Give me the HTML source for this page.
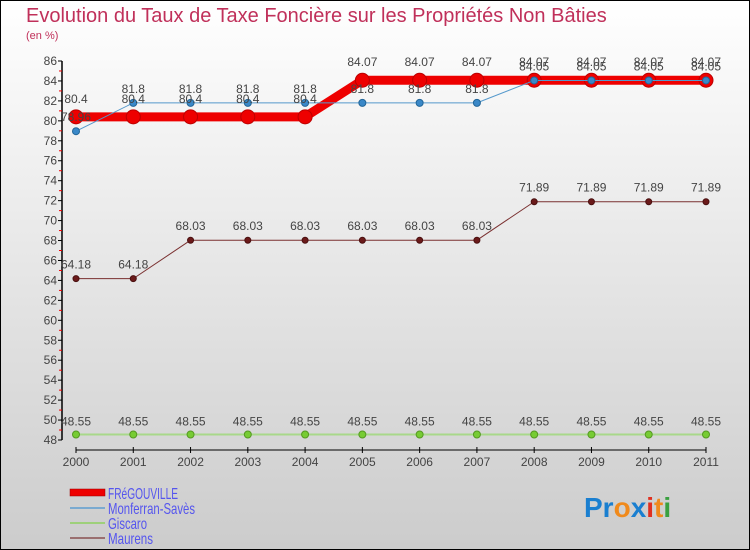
<!DOCTYPE html>
<html><head><meta charset="utf-8"><style>
body{margin:0}
svg{display:block;font-family:"Liberation Sans",sans-serif}
</style></head><body>
<svg id="c" width="750" height="550">
<defs><linearGradient id="bg" x1="0" y1="0" x2="0" y2="1"><stop offset="0" stop-color="#ffffff"/><stop offset="1" stop-color="#cccccc"/></linearGradient></defs>
<rect x="0.5" y="0.5" width="749" height="549" fill="url(#bg)" stroke="#000"/>
<text x="26" y="22" font-size="20" fill="#c0305a">Evolution du Taux de Taxe Foncière sur les Propriétés Non Bâties</text>
<text x="26" y="39" font-size="11" fill="#c0305a">(en %)</text>
<g id="axes"></g><g id="series"></g><g id="labels"></g>
<g>
<rect x="70" y="489" width="35" height="7" fill="#e00" stroke="#900" stroke-width="0.5"/>
<text x="108" y="499" font-size="16" fill="#5555ee" textLength="70" lengthAdjust="spacingAndGlyphs">FRéGOUVILLE</text>
<line x1="70" y1="508" x2="105" y2="508" stroke="#7aaad0" stroke-width="2"/>
<text x="108" y="514" font-size="16" fill="#5555ee" textLength="87" lengthAdjust="spacingAndGlyphs">Monferran-Savès</text>
<line x1="70" y1="523" x2="105" y2="523" stroke="#9ed07a" stroke-width="2"/>
<text x="108" y="529" font-size="16" fill="#5555ee" textLength="39" lengthAdjust="spacingAndGlyphs">Giscaro</text>
<line x1="70" y1="538" x2="105" y2="538" stroke="#9a6f6f" stroke-width="2"/>
<text x="108" y="544" font-size="16" fill="#5555ee" textLength="45" lengthAdjust="spacingAndGlyphs">Maurens</text>
</g>
<text x="584" y="517" font-size="28" font-weight="bold"><tspan fill="#1a7fd0">Pr</tspan><tspan fill="#f08a1c">o</tspan><tspan fill="#1a7fd0">x</tspan><tspan fill="#e03020">i</tspan><tspan fill="#f08a1c">t</tspan><tspan fill="#3aa040">i</tspan></text>
</svg>
<script>
const years=[2000,2001,2002,2003,2004,2005,2006,2007,2008,2009,2010,2011];
const fregouville=[80.4,80.4,80.4,80.4,80.4,84.07,84.07,84.07,84.07,84.07,84.07,84.07];
const monferran=[78.96,81.8,81.8,81.8,81.8,81.8,81.8,81.8,84.05,84.05,84.05,84.05];
const giscaro=[48.55,48.55,48.55,48.55,48.55,48.55,48.55,48.55,48.55,48.55,48.55,48.55];
const maurens=[64.18,64.18,68.03,68.03,68.03,68.03,68.03,68.03,71.89,71.89,71.89,71.89];
const yTicks=[48,50,52,54,56,58,60,62,64,66,68,70,72,74,76,78,80,82,84,86];
const NS="http://www.w3.org/2000/svg";
const X=i=>76+i*(706-76)/(years.length-1);
const Y=v=>440-(v-48)*(440-61)/(86-48);
function mk(p,t,a){const e=document.createElementNS(NS,t);for(const k in a)e.setAttribute(k,a[k]);p.appendChild(e);return e;}
const ax=document.getElementById('axes'),se=document.getElementById('series'),lb=document.getElementById('labels');
let l=mk(ax,'line',{x1:62,y1:61,x2:62,y2:440,stroke:'#000','stroke-width':1.5});


yTicks.forEach((t,i)=>{
 mk(ax,'line',{x1:58,x2:62,y1:Y(t),y2:Y(t),stroke:'#000'});
 if(i<yTicks.length-1) mk(ax,'line',{x1:59,x2:62,y1:Y(t+1),y2:Y(t+1),stroke:'#e00'});
 const tx=mk(ax,'text',{x:57,y:Y(t)+4,'text-anchor':'end','font-size':12,fill:'#444'});
 tx.textContent=t;
 
 
});
l=mk(ax,'line',{x1:X(0),y1:450,x2:X(11),y2:450,stroke:'#000','stroke-width':1});


years.forEach((y,i)=>{
 mk(ax,'line',{x1:X(i),x2:X(i),y1:447,y2:453,stroke:'#000'});
 const tx=mk(ax,'text',{x:X(i),y:466,'text-anchor':'middle','font-size':12,fill:'#444'});
 tx.textContent=y;
 
 
});
function series(name,vals,color,w,r,dot,dotStroke,lblDy){
 const pts=vals.map((v,i)=>X(i)+','+Y(v)).join(' ');
 const pl=mk(se,'polyline',{points:pts,fill:'none',stroke:color,'stroke-width':w,'stroke-linejoin':'round'});
 
 
 vals.forEach((v,i)=>{
  const c=mk(se,'circle',{cx:X(i),cy:Y(v),r:r,fill:dot,stroke:dotStroke,'stroke-width':1});
  
  
  const t=mk(lb,'text',{x:X(i),y:Y(v)+lblDy,'text-anchor':'middle','font-size':12,fill:'#444'});
  t.textContent=v;
  
  
 });
}
series('giscaro',giscaro,'#a8d88a',2,3.5,'#77cc33','#559922',-9);
series('maurens',maurens,'#7a3030',1,3,'#6b1a1a','#4a1010',-10);
series('fregouville',fregouville,'#ee0000',9,7,'#ee0000','#bb0000',-14);
series('monferran',monferran,'#5599cc',1,3.5,'#3a88c8','#226699',-10);
</script>
</body></html>
